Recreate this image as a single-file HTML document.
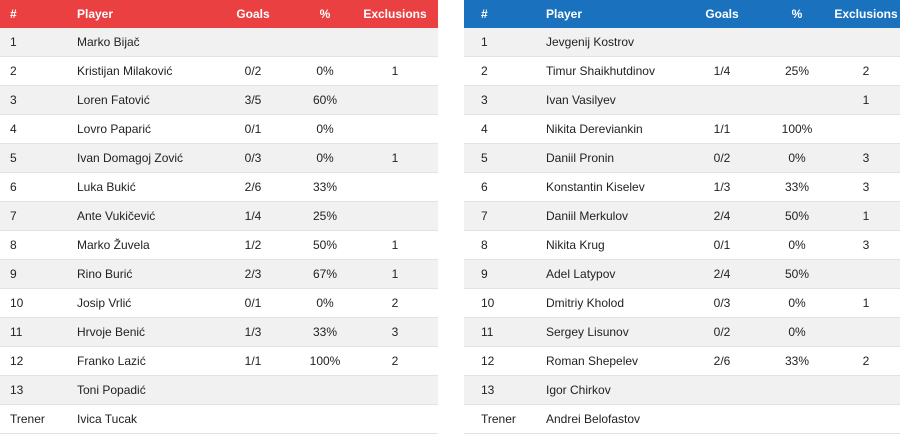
<!DOCTYPE html>
<html><head><meta charset="utf-8"><style>
body{margin:0;width:900px;height:435px;background:#fff;font-family:"Liberation Sans",sans-serif;font-size:12px;color:#222;position:relative;overflow:hidden}
.t{position:absolute;top:0;height:435px}
.h{position:absolute;left:0;right:0;top:0;height:28px;color:#fff;font-weight:bold;font-size:12px}
.r{position:absolute;left:0;right:0;height:29px;border-bottom:1px solid #e2e2e2;box-sizing:border-box}
.r.s{background:#f1f1f1}
.c{position:absolute;top:0;line-height:28px;white-space:nowrap}
.cc{transform:translateX(-50%)}
</style></head><body>
<div id="L" class="t" style="left:0;width:438px"></div>
<div id="R" class="t" style="left:464px;width:436px"></div>
<script>
const left=[["1","Marko Bijač","","",""],["2","Kristijan Milaković","0/2","0%","1"],["3","Loren Fatović","3/5","60%",""],["4","Lovro Paparić","0/1","0%",""],["5","Ivan Domagoj Zović","0/3","0%","1"],["6","Luka Bukić","2/6","33%",""],["7","Ante Vukičević","1/4","25%",""],["8","Marko Žuvela","1/2","50%","1"],["9","Rino Burić","2/3","67%","1"],["10","Josip Vrlić","0/1","0%","2"],["11","Hrvoje Benić","1/3","33%","3"],["12","Franko Lazić","1/1","100%","2"],["13","Toni Popadić","","",""],["Trener","Ivica Tucak","","",""]];
const right=[["1","Jevgenij Kostrov","","",""],["2","Timur Shaikhutdinov","1/4","25%","2"],["3","Ivan Vasilyev","","","1"],["4","Nikita Dereviankin","1/1","100%",""],["5","Daniil Pronin","0/2","0%","3"],["6","Konstantin Kiselev","1/3","33%","3"],["7","Daniil Merkulov","2/4","50%","1"],["8","Nikita Krug","0/1","0%","3"],["9","Adel Latypov","2/4","50%",""],["10","Dmitriy Kholod","0/3","0%","1"],["11","Sergey Lisunov","0/2","0%",""],["12","Roman Shepelev","2/6","33%","2"],["13","Igor Chirkov","","",""],["Trener","Andrei Belofastov","","",""]];
const headers=["#","Player","Goals","%","Exclusions"];
function build(root,rows,color,pos){
  const h=document.createElement('div');h.className='h';h.style.background=color;
  
  
  headers.forEach((t,i)=>{const c=document.createElement('div');c.className='c'+(i>1?' cc':'');c.style.left=pos[i]+'px';c.textContent=t;
    
    
    h.appendChild(c);});
  root.appendChild(h);
  rows.forEach((r,k)=>{const d=document.createElement('div');d.className='r'+(k%2===0?' s':'');d.style.top=(28+k*29)+'px';
    
    
    r.forEach((t,i)=>{const c=document.createElement('div');c.className='c'+(i>1?' cc':'');c.style.left=pos[i]+'px';c.textContent=t;
      
      
      d.appendChild(c);});
    root.appendChild(d);});
}
build(document.getElementById('L'),left,'#ea4042',[10,77,253,325,395]);
build(document.getElementById('R'),right,'#1a72bf',[17,82,258,333,402]);
</script>
</body></html>
